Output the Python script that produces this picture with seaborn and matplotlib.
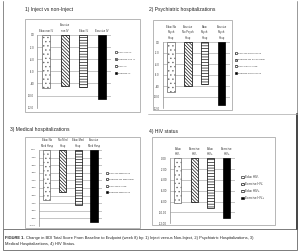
import matplotlib
matplotlib.use("Agg")
import matplotlib.pyplot as plt
import seaborn as sns
import pandas as pd
from matplotlib.patches import Patch, Rectangle
from matplotlib.lines import Line2D
from matplotlib.ticker import FormatStrFormatter

# ---------------- data ----------------
p1_title = "1) Inject vs non-Inject"
p1_cats = ["Educ non IV", "Exercise\nnon IV", "Educ IV", "Exercise IV"]
p1_legend = ["Educ non IV", "Exercise non IV", "Educ IV", "Exercise IV"]
p1_values = [-8.7, -8.4, -8.6, -10.6]
p1_ticks = [0, -2, -4, -6, -8, -10, -12]

p2_title = "2) Psychiatric hospitalizations"
p2_cats = ["Educ No\nPsych\nHosp", "Exercise\nNo Psych\nHosp", "Educ\nPsych\nHosp", "Exercise\nPsych\nHosp"]
p2_legend = ["Educ No Psych Hosp", "Exercise No Psych Hosp", "Educ Psych Hosp", "Exercise Psych Hosp"]
p2_values = [-9.0, -8.0, -7.7, -11.4]
p2_ticks = [0, -2, -4, -6, -8, -10, -12]

p3_title = "3) Medical hospitalizations"
p3_cats = ["Educ No\nMed Hosp", "No Med\nHosp", "Educ Med\nHosp", "Exercise\nMed Hosp"]
p3_legend = ["Educ No Med Hosp", "Exercise No Med Hosp", "Educ Med Hosp", "Exercise Med Hosp"]
p3_values = [-6.6, -5.5, -7.2, -9.5]
p3_ticks = [0, -1, -2, -3, -4, -5, -6, -7, -8, -9, -10]

p4_title = "4) HIV status"
p4_cats = ["Educ\nHIV-", "Exercise\nHIV-", "Educ\nHIV+", "Exercise\nHIV+"]
p4_legend = ["Educ HIV-", "Exercise HIV-", "Educ HIV+", "Exercise HIV+"]
p4_values = [-8.3, -8.0, -9.2, -11.1]
p4_ticks = [0, -2, -4, -6, -8, -10, -12]

caption_bold = "FIGURE 1."
caption_line1 = ("Change in BDI Total Score From Baseline to Endpoint (week 8) by: "
                 "1) Inject versus Non-Inject, 2) Psychiatric Hospitalizations, 3)")
caption_line2 = "Medical Hospitalizations, 4) HIV Status."

# ---------------- style ----------------
sns.set_style("white")
plt.rcParams["font.family"] = ["Liberation Sans", "DejaVu Sans"]
plt.rcParams["axes.unicode_minus"] = False
plt.rcParams["hatch.linewidth"] = 0.45

W, H = 300, 252
fig = plt.figure(figsize=(W / 100, H / 100), dpi=100)
fig.patch.set_facecolor("white")

styles = [
    dict(fc="white", hatch="....", ec="#666666"),
    dict(fc="white", hatch="\\" * 10, ec="black"),
    dict(fc="white", hatch="-" * 6, ec="black"),
    dict(fc="black", hatch=None, ec="black"),
]


def fx(x):
    return x / W


def fy(y):
    return 1 - y / H


def box(x0, y0, x1, y1, color="#9a9a9a", lw=0.5):
    fig.add_artist(Rectangle((fx(x0), fy(y1)), fx(x1) - fx(x0), fy(y0) - fy(y1),
                             transform=fig.transFigure, fill=False,
                             edgecolor=color, linewidth=lw))


def hline(x0, x1, y, color="#9a9a9a", lw=0.5):
    fig.add_artist(Line2D([fx(x0), fx(x1)], [fy(y), fy(y)], transform=fig.transFigure,
                          color=color, linewidth=lw))


def vline(x, y0, y1, color="#9a9a9a", lw=0.5):
    fig.add_artist(Line2D([fx(x), fx(x)], [fy(y0), fy(y1)], transform=fig.transFigure,
                          color=color, linewidth=lw))


def panel(ax_px, cats, vals, ticks, fmt, width, lab_fs, tick_fs,
          legend_labels, legend_xy, leg_fs, leg_spacing):
    x0, y0, x1, y1 = ax_px
    ax = fig.add_axes([fx(x0), fy(y1), fx(x1) - fx(x0), fy(y0) - fy(y1)])
    df = pd.DataFrame({"cat": cats, "val": vals})
    sns.barplot(data=df, x="cat", y="val", ax=ax, color="white", edgecolor="black",
                linewidth=0.5, width=width, saturation=1, errorbar=None, zorder=3)
    for p, st in zip(ax.patches, styles):
        p.set_facecolor(st["fc"])
        p.set_edgecolor(st["ec"])
        if st["hatch"]:
            p.set_hatch(st["hatch"])
    ax.set_xlim(-0.5, 3.5)
    ax.set_ylim(ticks[-1], ticks[0])
    ax.set_yticks(ticks)
    ax.yaxis.set_major_formatter(FormatStrFormatter(fmt))
    ax.xaxis.tick_top()
    ax.tick_params(axis="x", length=0, pad=1.5, labelsize=lab_fs, colors="#333333")
    ax.tick_params(axis="y", length=0, pad=2, labelsize=tick_fs, colors="#333333")
    for lab in ax.get_xticklabels():
        lab.set_linespacing(1.5)
    ax.set_xlabel("")
    ax.set_ylabel("")
    ax.yaxis.grid(True, color="#9a9a9a", linewidth=0.4, zorder=0)
    ax.set_axisbelow(True)
    for s in ["top", "right", "bottom"]:
        ax.spines[s].set_visible(False)
    ax.spines["left"].set_color("#8c8c8c")
    ax.spines["left"].set_linewidth(0.5)
    ax.patch.set_alpha(0)
    handles = [Patch(facecolor=st["fc"], edgecolor="black", hatch=st["hatch"], linewidth=0.4)
               for st in styles]
    fig.legend(handles, legend_labels, loc="upper left",
               bbox_to_anchor=(fx(legend_xy[0]), fy(legend_xy[1])),
               bbox_transform=fig.transFigure, frameon=False, fontsize=leg_fs,
               handlelength=0.9, handleheight=0.9, handletextpad=0.4,
               labelspacing=leg_spacing, borderpad=0, borderaxespad=0,
               labelcolor="#333333")
    return ax


# outer frame and chart boxes
vline(3, 1, 229, color="#777777", lw=0.6)
vline(297, 1, 114, color="#888888", lw=0.6)
vline(297, 114, 229, color="#444444", lw=1.4)
hline(148, 297, 113.5, color="#aaaaaa", lw=0.5)
box(3, 229, 297, 250, color="#666666", lw=0.6)

box(25, 19, 140, 112)
box(153, 20, 232, 110)
box(25, 137, 140, 228)
box(152, 137, 275, 225)

# titles
tfs = 3.6
fig.text(fx(25), fy(9), p1_title, fontsize=tfs, va="center", ha="left", color="#222222")
fig.text(fx(149), fy(9), p2_title, fontsize=tfs, va="center", ha="left", color="#222222")
fig.text(fx(10), fy(130), p3_title, fontsize=tfs, va="center", ha="left", color="#222222")
fig.text(fx(149), fy(131), p4_title, fontsize=tfs, va="center", ha="left", color="#222222")

panel((37, 35, 111, 107.6), p1_cats, p1_values, p1_ticks, "%.1f", 0.45, 1.9, 1.9,
      p1_legend, (115, 51), 1.7, 2.2)
panel((162.5, 42, 230, 108), p2_cats, p2_values, p2_ticks, "%.1f", 0.45, 1.9, 1.9,
      p2_legend, (235, 52), 1.7, 2.0)
panel((38.8, 150, 102, 226), p3_cats, p3_values, p3_ticks, "%.2f", 0.48, 1.9, 1.7,
      p3_legend, (106, 172), 1.7, 1.9)
panel((169.7, 158.3, 235, 223.3), p4_cats, p4_values, p4_ticks, "%.2f", 0.42, 2.2, 2.0,
      p4_legend, (241, 175), 2.2, 1.0)

# caption
cfs = 2.9
t_bold = fig.text(fx(5), fy(238), caption_bold, fontsize=cfs, fontweight="bold",
                  va="center", ha="left", color="#222222")
fig.canvas.draw()
bb = t_bold.get_window_extent(renderer=fig.canvas.get_renderer())
fig.text(bb.x1 / W + fx(2), fy(238), caption_line1, fontsize=cfs, va="center", ha="left",
         color="#222222")
fig.text(fx(5), fy(244), caption_line2, fontsize=cfs, va="center", ha="left", color="#222222")

fig.savefig("out.png", dpi=100)
